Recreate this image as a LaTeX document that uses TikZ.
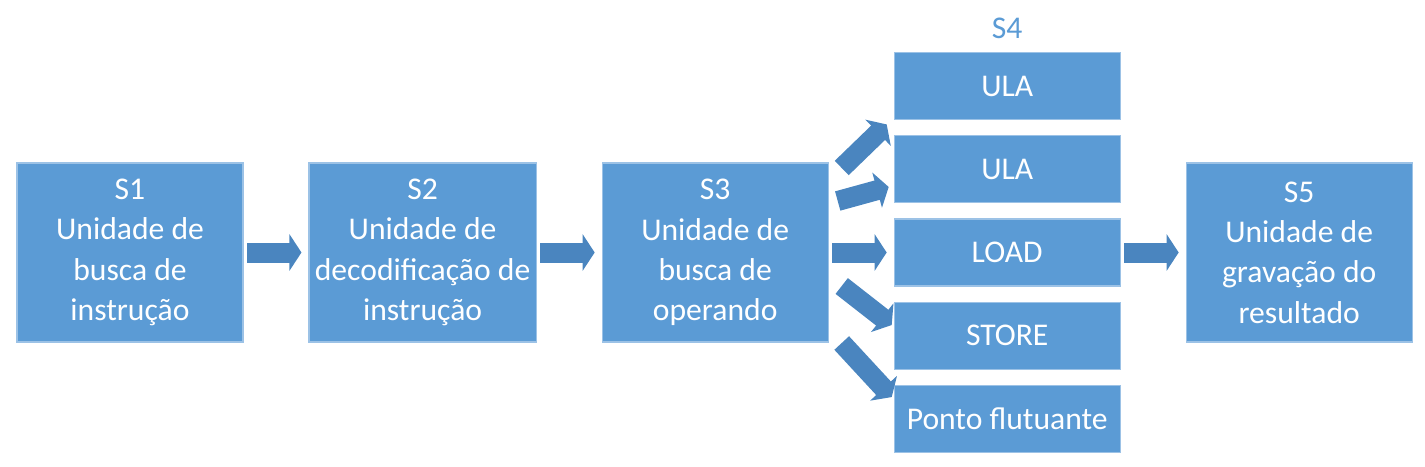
\documentclass[tikz,border=0pt]{standalone}
\usepackage{fontspec}
\setmainfont{Carlito}
\usepackage{tikz}
\usetikzlibrary{arrows.meta,positioning}

\definecolor{boxblue}{HTML}{5B9BD5}
\definecolor{edgeblue}{HTML}{9CC2E6}
\definecolor{arrowblue}{HTML}{4A85BF}

\begin{document}
\begin{tikzpicture}[
    x=0.02cm, y=-0.02cm,
    node distance=1.3cm,
    stage/.style={rectangle, fill=boxblue, draw=edgeblue, line width=0.6pt, minimum width=4.52cm, minimum height=3.58cm, align=center, text=white, font=\fontsize{18}{23}\selectfont},
    unit/.style={stage, minimum height=1.34cm},
    fat/.style={draw=arrowblue, line width=0.4cm, -{Triangle[length=0.24cm, width=0.72cm]}, shorten <=2pt, shorten >=4pt}
]
    \useasboundingbox (0,0) rectangle (1425,466);

    \node[stage] (s1) at (130,252.5) {S1\\Unidade de\\busca de\\instrução};
    \node[stage, right=of s1] (s2) {S2\\Unidade de\\decodificação de\\instrução};
    \node[stage, right=of s2] (s3) {S3\\Unidade de\\busca de\\operando};

    \node[unit, right=of s3] (load) {LOAD};
    \node[unit, above=0.3cm of load] (ula2) {ULA};
    \node[unit, above=0.3cm of ula2] (ula1) {ULA};
    \node[unit, below=0.3cm of load] (store) {STORE};
    \node[unit, below=0.3cm of store] (ponto) {Ponto flutuante};
    \node[above=0.15cm of ula1, text=boxblue, font=\fontsize{18}{23}\selectfont] (s4) {S4};

    \node[stage, right=of load] (s5) {S5\\Unidade de\\gravação do\\resultado};

    \draw[fat] (s1) -- (s2);
    \draw[fat] (s2) -- (s3);
    \draw[fat] (load) -- (s5);

    % leque de S3 para as unidades de S4
    \draw[fat, shorten <=0pt, shorten >=0pt] ([shift={(13,-84.5)}]s3.east) -- ([shift={(-7,4)}]ula1.south west);
    \draw[fat, shorten <=0pt, shorten >=0pt] ([shift={(9,-51.5)}]s3.east) -- ([shift={(-5,17.5)}]ula2.west);
    \draw[fat] (s3) -- (load);
    \draw[fat, shorten <=0pt, shorten >=0pt] ([shift={(13,33.5)}]s3.east) -- ([shift={(-2,-10.5)}]store.west);
    \draw[fat, shorten <=0pt, shorten >=0pt] ([shift={(13,90.5)}]s3.east) -- ([shift={(-2,-21.5)}]ponto.west);
\end{tikzpicture}
\end{document}
